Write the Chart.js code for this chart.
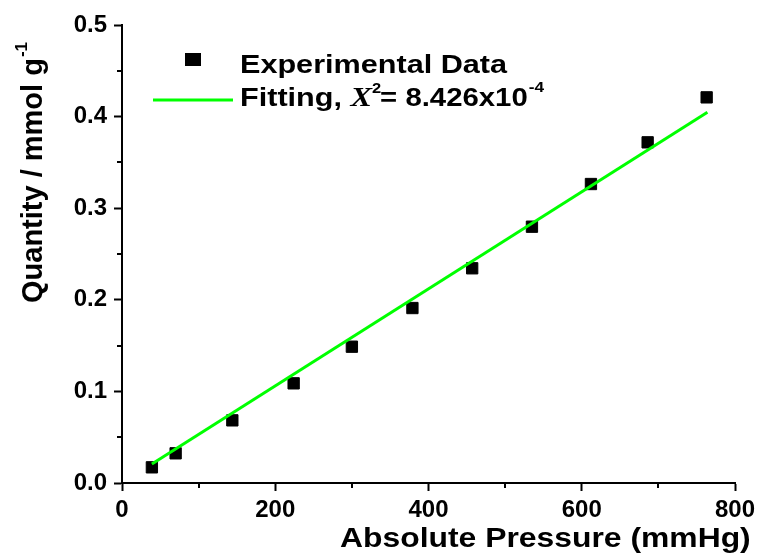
<!DOCTYPE html>
<html>
<head>
<meta charset="utf-8">
<title>Adsorption isotherm</title>
<script src="https://cdn.jsdelivr.net/npm/chart.js@4.4.1/dist/chart.umd.min.js"></script>
<style>
  html, body { margin: 0; padding: 0; background: #fff; }
  #wrap { width: 761px; height: 558px; }
</style>
</head>
<body>
<div id="wrap"><canvas id="isoChart" width="761" height="558"></canvas></div>
<script>
// measured points (pressure in mmHg, uptake in mmol/g)
var pressure = [39, 70, 144, 224, 300, 379, 457, 535, 612, 686, 763];
var quantity = [0.0171, 0.0324, 0.0684, 0.1088, 0.1488, 0.1910, 0.2344, 0.2798, 0.3264, 0.3719, 0.4210];

// ends of the linear fit
var fitPressure = [39, 764];
var fitQuantity = [0.0207, 0.4047];

var xTicks = [0, 200, 400, 600, 800];
var yTicks = [0.0, 0.1, 0.2, 0.3, 0.4, 0.5];
var xMinor = [100, 300, 500, 700];
var yMinor = [0.05, 0.15, 0.25, 0.35, 0.45];

var FONT = '"Liberation Sans", Arial, sans-serif';
var SERIF = '"Liberation Serif", "Times New Roman", serif';
var GREEN = '#00ff00';

function toPoints(xs, ys) {
    var pts = [];
    for (var i = 0; i < xs.length; i++) pts.push({ x: xs[i], y: ys[i] });
    return pts;
}

// draws text widened by sx, returns the advance in canvas pixels
function wideText(ctx, str, x, y, font, sx) {
    ctx.save();
    ctx.font = font;
    ctx.translate(x, y);
    ctx.scale(sx, 1);
    ctx.fillText(str, 0, 0);
    var w = ctx.measureText(str).width * sx;
    ctx.restore();
    return w;
}

// minor ticks, axis titles and the legend are drawn by hand
var extras = {
    id: 'extras',
    afterDraw: function(chart) {
        var ctx = chart.ctx;
        var xs = chart.scales.x, ys = chart.scales.y;
        var area = chart.chartArea;

        ctx.save();
        ctx.strokeStyle = '#000';
        ctx.lineWidth = 2;
        ctx.beginPath();
        xMinor.forEach(function(v) {
            var px = Math.round(xs.getPixelForValue(v));
            ctx.moveTo(px, area.bottom);
            ctx.lineTo(px, area.bottom + 5);
        });
        yMinor.forEach(function(v) {
            var py = Math.round(ys.getPixelForValue(v));
            ctx.moveTo(area.left, py);
            ctx.lineTo(area.left - 5, py);
        });
        ctx.stroke();

        ctx.fillStyle = '#000';
        ctx.textBaseline = 'alphabetic';
        ctx.textAlign = 'left';

        // x axis title
        wideText(ctx, 'Absolute Pressure (mmHg)', 340, 547, 'bold 27px ' + FONT, 1.18);

        // y axis title, rotated, with superscript
        ctx.save();
        ctx.translate(42, 303);
        ctx.rotate(-Math.PI / 2);
        ctx.font = 'bold 29px ' + FONT;
        var yTitle = 'Quantity / mmol g';
        ctx.fillText(yTitle, 0, 0);
        var w = ctx.measureText(yTitle).width;
        ctx.font = 'bold 17px ' + FONT;
        ctx.fillText('-1', w + 1, -15);
        ctx.restore();

        // legend
        ctx.fillRect(185, 53, 16, 13);
        wideText(ctx, 'Experimental Data', 240, 73, 'bold 25.5px ' + FONT, 1.2);

        ctx.strokeStyle = GREEN;
        ctx.lineWidth = 3;
        ctx.beginPath();
        ctx.moveTo(153, 100);
        ctx.lineTo(233, 100);
        ctx.stroke();

        var x = 240, base = 106;
        x += wideText(ctx, 'Fitting, ', x, base, 'bold 25.5px ' + FONT, 1.2);
        x += wideText(ctx, 'X', x, base, 'italic bold 28px ' + SERIF, 1.15);
        x += wideText(ctx, '2', x, base - 13, 'bold 15px ' + FONT, 1.1) - 1;
        x += wideText(ctx, '= 8.426x10', x, base, 'bold 25.5px ' + FONT, 1.15);
        wideText(ctx, '-4', x + 1, base - 14, 'bold 15px ' + FONT, 1.15);
        ctx.restore();
    }
};

var axisGrid = {
    display: true,
    drawOnChartArea: false,
    drawTicks: true,
    tickLength: 8,
    tickWidth: 2,
    tickColor: '#000'
};

new Chart(document.getElementById('isoChart'), {
    type: 'scatter',
    data: {
        datasets: [{
            type: 'line',
            label: 'Fitting',
            data: toPoints(fitPressure, fitQuantity),
            borderColor: GREEN,
            borderWidth: 3,
            pointRadius: 0,
            fill: false,
            tension: 0
        }, {
            label: 'Experimental Data',
            data: toPoints(pressure, quantity),
            pointStyle: 'rect',
            pointRadius: 8,
            pointBorderWidth: 1,
            backgroundColor: '#000',
            borderColor: '#000'
        }]
    },
    options: {
        responsive: false,
        animation: false,
        layout: { padding: { top: 25, right: 26, left: 0, bottom: 0 } },
        plugins: {
            legend: { display: false },
            tooltip: { enabled: false }
        },
        scales: {
            x: {
                type: 'linear',
                min: 0,
                max: 800,
                afterFit: function(scale) { scale.height = 75; },
                afterBuildTicks: function(scale) {
                    scale.ticks = xTicks.map(function(v) { return { value: v }; });
                },
                border: { display: true, color: '#000', width: 2 },
                grid: axisGrid,
                ticks: {
                    color: '#000',
                    padding: 5,
                    font: { family: FONT, size: 24, weight: 'bold' }
                }
            },
            y: {
                type: 'linear',
                min: 0,
                max: 0.5,
                afterFit: function(scale) { scale.width = 122; },
                afterBuildTicks: function(scale) {
                    scale.ticks = yTicks.map(function(v) { return { value: v }; });
                },
                border: { display: true, color: '#000', width: 2 },
                grid: axisGrid,
                ticks: {
                    color: '#000',
                    padding: 7,
                    font: { family: FONT, size: 24, weight: 'bold' },
                    callback: function(v) { return v.toFixed(1); }
                }
            }
        }
    },
    plugins: [extras]
});
</script>
</body>
</html>
